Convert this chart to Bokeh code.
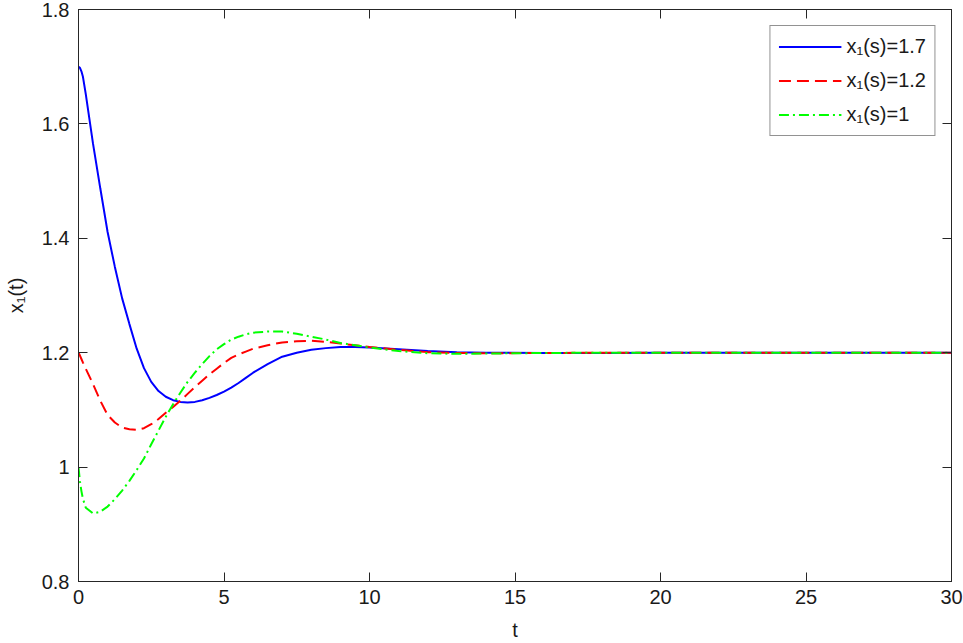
from bokeh.plotting import figure
from bokeh.models import (Range1d, LinearAxis, FixedTicker, CustomJSTickFormatter,
                          Legend, LegendItem)
from bokeh.embed import file_html
from bokeh.resources import INLINE

# ---- data ----
t = [0, 0.05, 0.1, 0.15, 0.25, 0.5, 0.75, 1.0, 1.25, 1.5, 1.75, 2.0, 2.25, 2.5, 2.75,
     3.0, 3.25, 3.5, 3.75, 4.0, 4.25, 4.5, 4.75, 5.0, 5.25, 5.5, 5.75, 6.0,
     6.5, 7.0, 7.5, 8.0, 8.5, 9.0, 9.5, 10, 11, 12, 13, 14, 16, 18, 20, 25, 30]
x1_s17 = [1.700, 1.698, 1.692, 1.683, 1.652, 1.565, 1.487, 1.411, 1.350, 1.295,
          1.250, 1.207, 1.173, 1.149, 1.133, 1.123, 1.117, 1.114, 1.113, 1.114,
          1.117, 1.121, 1.126, 1.132, 1.139, 1.147, 1.156, 1.165,
          1.180, 1.193, 1.200, 1.205, 1.208, 1.210, 1.210, 1.209,
          1.206, 1.203, 1.201, 1.200, 1.1995, 1.1995, 1.200, 1.200, 1.200]
x1_s12 = [1.200, 1.195, 1.189, 1.183, 1.172, 1.145, 1.116, 1.091, 1.078, 1.069,
          1.066, 1.065, 1.068, 1.075, 1.084, 1.095, 1.105, 1.116, 1.128, 1.140,
          1.151, 1.162, 1.172, 1.182, 1.191, 1.197, 1.202, 1.207,
          1.213, 1.218, 1.220, 1.221, 1.219, 1.216, 1.213, 1.210,
          1.205, 1.201, 1.1995, 1.199, 1.1995, 1.200, 1.200, 1.200, 1.200]
x1_s10 = [1.000, 0.975, 0.958, 0.945, 0.929, 0.919, 0.922, 0.931, 0.944, 0.959,
          0.976, 0.995, 1.015, 1.040, 1.064, 1.088, 1.110, 1.130, 1.149, 1.165,
          1.180, 1.194, 1.206, 1.215, 1.223, 1.228, 1.232, 1.235,
          1.237, 1.237, 1.233, 1.228, 1.223, 1.217, 1.213, 1.209,
          1.203, 1.199, 1.198, 1.1985, 1.1995, 1.200, 1.200, 1.200, 1.200]
labels = ["x\u2081(s)=1.7", "x\u2081(s)=1.2", "x\u2081(s)=1"]
x_ticks = [0, 5, 10, 15, 20, 25, 30]
y_ticks = [0.8, 1.0, 1.2, 1.4, 1.6, 1.8]

FONT = "Liberation Sans"
TXT = "#1a1a1a"
AX = "#262626"

p = figure(width=963, height=643, x_range=Range1d(0, 30), y_range=Range1d(0.8, 1.8),
           output_backend="svg", toolbar_location=None,
           min_border_left=78, min_border_right=12, min_border_top=9, min_border_bottom=61)
p.xgrid.visible = False
p.ygrid.visible = False
p.outline_line_color = AX
p.outline_line_width = 1
p.background_fill_color = "white"
p.border_fill_color = "white"

fmt = CustomJSTickFormatter(code="return (Math.round(tick*10)/10).toString();")


def style_axis(ax, ticks, show_labels=True):
    ax.ticker = FixedTicker(ticks=ticks)
    ax.minor_tick_line_color = None
    ax.major_tick_in = 9
    ax.major_tick_out = 0
    ax.major_tick_line_color = AX
    ax.axis_line_color = AX
    ax.axis_line_width = 1
    ax.major_label_text_font = FONT
    ax.major_label_text_color = TXT
    if show_labels:
        ax.formatter = fmt
        ax.major_label_text_font_size = "20px"
    else:
        ax.formatter = CustomJSTickFormatter(code="return '';")
        ax.major_label_text_font_size = "0px"
        ax.major_label_standoff = 0


style_axis(p.xaxis[0], x_ticks)
style_axis(p.yaxis[0], y_ticks)
p.xaxis[0].major_label_standoff = 8
p.yaxis[0].major_label_standoff = 9
p.xaxis[0].axis_label = "t"
p.yaxis[0].axis_label = "x\u2081(t)"
for ax in (p.xaxis[0], p.yaxis[0]):
    ax.axis_label_text_font = FONT
    ax.axis_label_text_font_size = "20px"
    ax.axis_label_text_font_style = "normal"
    ax.axis_label_text_color = TXT
p.xaxis[0].axis_label_standoff = 12
p.yaxis[0].axis_label_standoff = 12

top_ax = LinearAxis()
style_axis(top_ax, x_ticks, show_labels=False)
p.add_layout(top_ax, "above")
right_ax = LinearAxis()
style_axis(right_ax, y_ticks, show_labels=False)
p.add_layout(right_ax, "right")

r1 = p.line(t, x1_s17, line_color="#0000FF", line_width=2)
r2 = p.line(t, x1_s12, line_color="#FF0000", line_width=2, line_dash="12 6")
r3 = p.line(t, x1_s10, line_color="#00FF00", line_width=2, line_dash="10 4 2 4")

legend = Legend(items=[LegendItem(label=labels[0], renderers=[r1]),
                       LegendItem(label=labels[1], renderers=[r2]),
                       LegendItem(label=labels[2], renderers=[r3])],
                location="top_right", margin=16, padding=8, spacing=9,
                glyph_width=63, glyph_height=25, label_height=25, label_standoff=5,
                label_text_font=FONT, label_text_font_size="20px", label_text_color=TXT,
                border_line_color=AX, border_line_width=1,
                background_fill_color="white", background_fill_alpha=1.0)
p.add_layout(legend)

open("out.html", "w").write(file_html(p, INLINE))
